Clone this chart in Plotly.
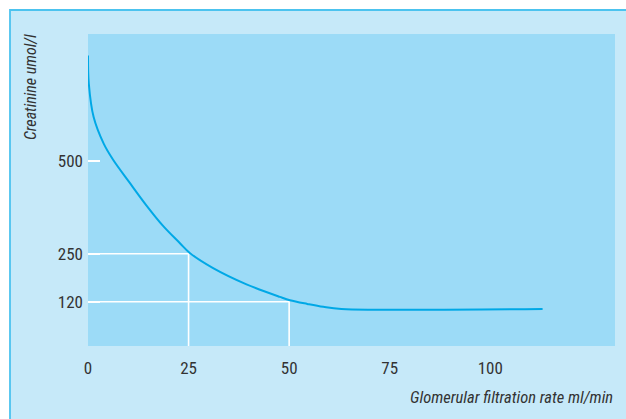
import plotly.graph_objects as go

# Data
gfr = [0, 0.2, 1.4, 3.9, 6.2, 10.3, 14.5, 18.6, 22.8, 25.3, 31.1, 39.4, 47.7, 50.2, 54.5, 58.5, 63, 113]
creatinine = [787, 711, 620, 548, 505, 443, 381, 326, 279, 252, 211, 167, 133, 124, 114, 106, 100.5, 100]

x_ticks = [0, 25, 50, 75, 100]
y_ticks = [120, 250, 500]

ref_gfr = [25, 50]
ref_creat = [250, 120]

FONT = "Liberation Sans Narrow, Roboto Condensed, Arial Narrow, Liberation Sans, sans-serif"
TXT = "#333333"
OUTER = "#c6e9f9"
INNER = "#9cdbf7"
BORDER = "#4cc3ef"
CURVE = "#00a8e6"

fig = go.Figure()

# white reference lines
for gx, cy in zip(ref_gfr, ref_creat):
    fig.add_trace(go.Scatter(x=[0, gx, gx], y=[cy, cy, 0], mode="lines",
                             line=dict(color="white", width=1.6),
                             hoverinfo="skip", showlegend=False))

fig.add_trace(go.Scatter(x=gfr, y=creatinine, mode="lines",
                         line=dict(color=CURVE, width=2, shape="spline", smoothing=1.0),
                         showlegend=False))

W, H = 626, 419
ml, mr, mt, mb = 88, 11, 34, 73
pw, ph = W - ml - mr, H - mt - mb

def px2paper_x(px):
    return (px - ml) / pw

def px2paper_y(py):
    return (H - mb - py) / ph

fig.update_layout(
    width=W, height=H,
    margin=dict(l=ml, r=mr, t=mt, b=mb),
    paper_bgcolor="white",
    plot_bgcolor=INNER,
    font=dict(family=FONT, size=17, color=TXT),
    xaxis=dict(range=[0, 131], tickvals=x_ticks, ticktext=[str(v) for v in x_ticks],
               showgrid=False, zeroline=False, showline=False, ticks="",
               ticklabelstandoff=10, tickfont=dict(family=FONT, size=17, color=TXT)),
    yaxis=dict(range=[0, 845], tickvals=y_ticks, ticktext=[str(v) for v in y_ticks],
               showgrid=False, zeroline=False, showline=False,
               ticks="inside", ticklen=12, tickwidth=1.6, tickcolor="white",
               ticklabelstandoff=4, tickfont=dict(family=FONT, size=17, color=TXT)),
    shapes=[
        dict(type="rect", xref="paper", yref="paper", layer="below",
             x0=px2paper_x(10), x1=px2paper_x(700), y0=px2paper_y(10), y1=px2paper_y(500),
             fillcolor=OUTER, line=dict(color=BORDER, width=1.8)),
        dict(type="rect", xref="paper", yref="paper", layer="below",
             x0=0, x1=1, y0=0, y1=1, fillcolor=INNER, line=dict(width=0)),
    ],
    annotations=[
        dict(text="<i>Creatinine umol/l</i>", xref="paper", yref="paper",
             x=px2paper_x(30), y=px2paper_y(32), xanchor="center", yanchor="top",
             textangle=-90, showarrow=False, font=dict(family=FONT, size=16, color=TXT)),
        dict(text="<i>Glomerular filtration rate ml/min</i>", xref="paper", yref="paper",
             x=1, y=px2paper_y(397), xanchor="right", yanchor="middle",
             showarrow=False, font=dict(family=FONT, size=16.5, color=TXT)),
    ],
)

fig.write_html("out.html", config={"displayModeBar": False},
               post_script="document.body.style.margin='0';document.body.style.overflow='hidden';")
